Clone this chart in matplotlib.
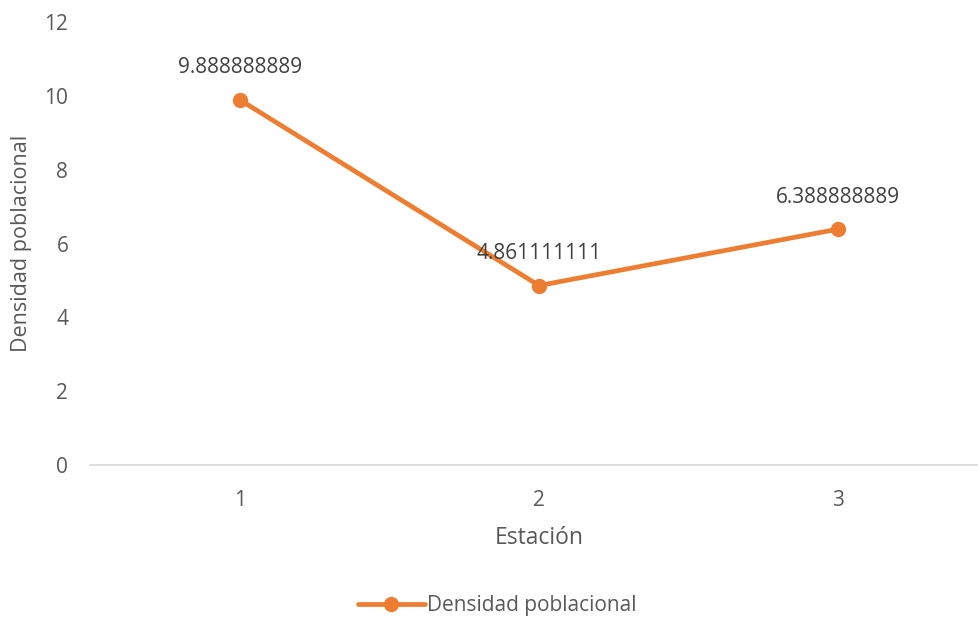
import matplotlib
matplotlib.use("Agg")
import matplotlib.pyplot as plt

estaciones = [1, 2, 3]
densidad = [9.888888889, 4.861111111, 6.388888889]
etiquetas = ["9.888888889", "4.861111111", "6.388888889"]
y_ticks = [0, 2, 4, 6, 8, 10, 12]

plt.rcParams['font.family'] = ['Open Sans', 'DejaVu Sans']
W, H = 979, 619
fig = plt.figure(figsize=(W / 100, H / 100), dpi=100)
left, right = 90.5 / W, 987.5 / W
bottom, top = 1 - 465 / H, 1 - 22 / H
ax = fig.add_axes([left, bottom, right - left, top - bottom])

color = '#ED7D31'
txt = '#595959'
ax.plot(estaciones, densidad, color=color, linewidth=3.4, marker='o',
        markersize=10, label='Densidad poblacional', solid_capstyle='round')

for x, y, s in zip(estaciones, densidad, etiquetas):
    ax.annotate(s, (x, y), xytext=(0, 23), textcoords='offset points',
                ha='center', va='center', fontsize=15, color='#404040')

ax.set_xlim(0.5, 3.5)
ax.set_ylim(0, 12)
ax.set_yticks(y_ticks)
ax.set_xticks(estaciones)
ax.set_xticklabels([str(e) for e in estaciones])
for s in ['top', 'right', 'left']:
    ax.spines[s].set_visible(False)
ax.spines['bottom'].set_color('#D9D9D9')
ax.spines['bottom'].set_linewidth(1.2)
ax.tick_params(axis='both', length=0, labelsize=15, labelcolor=txt)
ax.tick_params(axis='y', pad=16)
ax.tick_params(axis='x', pad=18)
ax.set_xlabel('Estación', fontsize=16.5, color=txt, labelpad=11)
ax.set_ylabel('Densidad poblacional', fontsize=15.5, color=txt)
ax.yaxis.set_label_coords(-59 / 897, 0.5)

leg = fig.legend(loc='center', bbox_to_anchor=(497 / W, 1 - 606 / H), frameon=False,
                 fontsize=15, handlelength=3.2, handletextpad=0.1)
for t in leg.get_texts():
    t.set_color(txt)

fig.savefig('out.png', dpi=100)
